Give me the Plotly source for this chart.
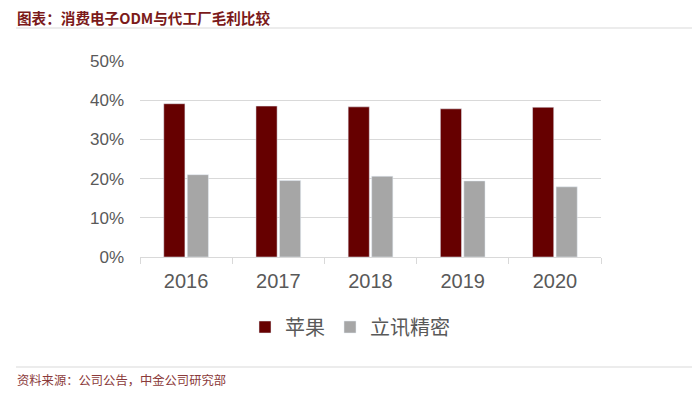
import plotly.graph_objects as go

years = ["2016", "2017", "2018", "2019", "2020"]
apple = [0.391, 0.385, 0.383, 0.378, 0.382]
luxshare = [0.210, 0.195, 0.206, 0.194, 0.179]
y_ticks = [0, 0.1, 0.2, 0.3, 0.4, 0.5]

# page body has an 8px margin; place everything in reference pixel coords
OFF = 8
W, H = 700 - OFF, 398 - OFF
L, R, T, B = 140 - OFF, 99, 61 - OFF, 141
pw = W - L - R
ph = H - T - B

def px_x(x):
    return (x - OFF - L) / pw

def px_y(y):
    return (H - B - (y - OFF)) / ph

font_cn = "Noto Sans CJK SC, Liberation Sans, Arial, sans-serif"

fig = go.Figure()
fig.add_trace(go.Bar(x=years, y=apple, name="苹果", marker=dict(color="#660000")))
fig.add_trace(go.Bar(x=years, y=luxshare, name="立讯精密", marker=dict(color="#A6A6A6")))

fig.update_layout(
    width=W, height=H,
    margin=dict(l=L, r=R, t=T, b=B, pad=0),
    paper_bgcolor="white", plot_bgcolor="white",
    barmode="group", bargap=0.49, bargroupgap=0.1,
    showlegend=True,
    legend=dict(orientation="h", x=px_x(350), xanchor="center", y=px_y(327), yanchor="middle",
                font=dict(size=20, color="#595959", family=font_cn),
                itemwidth=30, traceorder="normal"),
    xaxis=dict(tickfont=dict(size=20, color="#595959", family="Liberation Sans, Arial"),
               showline=True, linecolor="#D9D9D9", linewidth=1,
               ticks="outside", tickson="boundaries", ticklen=6, tickcolor="#D9D9D9",
               showgrid=False, ticklabelstandoff=6),
    yaxis=dict(range=[0, 0.5], tickvals=y_ticks, tickformat=".0%",
               tickfont=dict(size=17, color="#595959", family="Liberation Sans, Arial"),
               showgrid=True, gridcolor="#D9D9D9", gridwidth=1,
               zeroline=False, showline=False, ticklabelstandoff=15),
    shapes=[
        dict(type="line", xref="paper", yref="paper", x0=px_x(16), x1=px_x(692), y0=px_y(28), y1=px_y(28),
             line=dict(color="#D9D9D9", width=1)),
        dict(type="line", xref="paper", yref="paper", x0=px_x(16), x1=px_x(692), y0=px_y(367), y1=px_y(367),
             line=dict(color="#D9D9D9", width=1)),
    ],
    annotations=[
        dict(text="<b>图表：消费电子ODM与代工厂毛利比较</b>", xref="paper", yref="paper",
             x=px_x(15), y=px_y(18), xanchor="left", yanchor="middle", showarrow=False,
             font=dict(size=14.6, color="#7B1A1A", family=font_cn)),
        dict(text="资料来源：公司公告，中金公司研究部", xref="paper", yref="paper",
             x=px_x(15), y=px_y(380), xanchor="left", yanchor="middle", showarrow=False,
             font=dict(size=12.3, color="#8B3A3A", family=font_cn)),
    ],
)

fig.write_html("out.html")
